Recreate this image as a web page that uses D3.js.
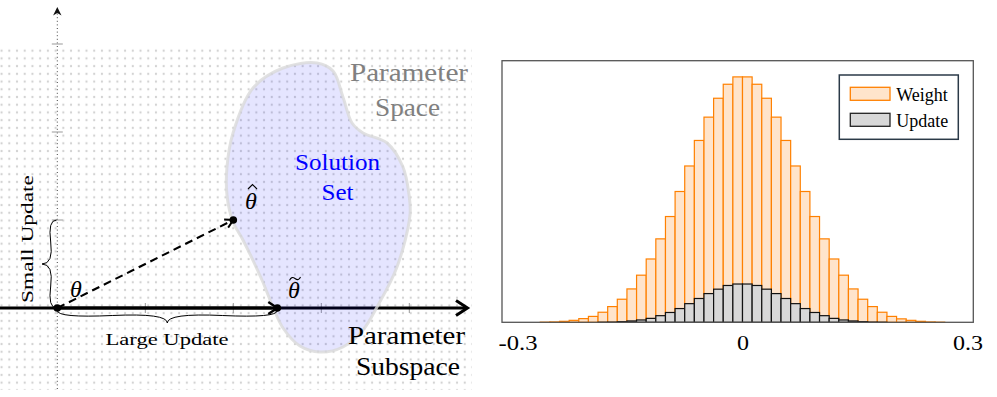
<!DOCTYPE html>
<html>
<head>
<meta charset="utf-8">
<script src="https://cdn.jsdelivr.net/npm/d3@7"></script>
<style>
body{margin:0;background:#fff;}
svg{display:block;}
</style>
</head>
<body>
<svg id="chart" width="997" height="397"></svg>
<script>
// ---- histogram (right panel) ----
var binStart = -0.321, binWidth = 0.01284;   // 50 bins
var weightCounts = [0,0,0,0,0.5,1.5,4,8,15,24,41,64,94,136,192,258,340,431,533,637,741,836,913,970,1000,
	1000,970,913,836,741,637,533,431,340,258,192,136,94,64,41,24,14,8,4,1.5,0.5,0,0,0,0];
var updateCounts = [0,0,0,0,0,0,0,0,0,0,0.3,0.8,2.5,5.5,9.5,16,27,40,56,76,97,117,135,150,156,
	156,150,135,117,97,76,56,40,27,16,9.5,5.5,2.5,0.8,0.3,0,0,0,0,0,0,0,0,0,0];
var xTicks = [-0.3, 0, 0.3];
var xTickLabels = ["-0.3", "0", "0.3"];
var legendItems = ["Weight", "Update"];

// ---- diagram (left panel), in axis units ----
var thetaPt = [0, 0], thetaHatPt = [2, 1], thetaTildePt = [2.5, 0];
var uTicks = [1, 2, 3, 4], vTicks = [1, 2, 3];
var solutionSet = [[2.951,2.784],[3.133,2.693],[3.246,2.398],[3.349,2.102],[3.474,1.989],[3.747,1.875],
	[3.928,1.602],[3.997,1.284],[4.008,1.057],[3.860,0.466],[3.633,0.011],[3.474,-0.250],[3.246,-0.443],
	[2.985,-0.500],[2.758,-0.432],[2.565,-0.227],[2.451,0.011],[2.326,0.318],[2.110,0.773],[1.997,0.977],
	[1.928,1.284],[1.928,1.602],[1.997,1.989],[2.224,2.500],[2.565,2.727]];

var svg = d3.select("#chart");
var SERIF = "Liberation Serif, Times New Roman, serif";

/* ================= left: parameter space diagram ================= */
var sx = d3.scaleLinear().domain([0, 1]).range([57.3, 145.3]);
var sy = d3.scaleLinear().domain([0, 1]).range([308, 220]);
var L = svg.append("g").attr("class", "diagram");

var defs = svg.append("defs");
defs.append("pattern").attr("id", "dots").attr("patternUnits", "userSpaceOnUse")
	.attr("x", -2.3).attr("y", 46.8).attr("width", 7.72).attr("height", 7.72)
	.append("circle").attr("cx", 3.86).attr("cy", 3.86).attr("r", 1.15).attr("fill", "#d2d2d2");
L.append("rect").attr("x", 0).attr("y", 47).attr("width", 472).attr("height", 343)
	.attr("fill", "url(#dots)");

// vertical dotted axis
L.append("line").attr("x1", sx(0)).attr("x2", sx(0)).attr("y1", 389).attr("y2", 12)
	.attr("stroke", "#444").attr("stroke-width", 1).attr("stroke-dasharray", "1,2.6");
L.append("path").attr("d", "M0,-4 L4.2,4.5 L0,2 L-4.2,4.5 Z")
	.attr("transform", "translate(" + sx(0) + ",11)").attr("fill", "#111");

// ticks
L.selectAll(".utick").data(uTicks).enter().append("line").attr("class", "utick")
	.attr("x1", function(d){return sx(d);}).attr("x2", function(d){return sx(d);})
	.attr("y1", sy(0) - 5).attr("y2", sy(0) + 5).attr("stroke", "#999").attr("stroke-width", 1);
L.selectAll(".vtick").data(vTicks).enter().append("line").attr("class", "vtick")
	.attr("y1", function(d){return sy(d);}).attr("y2", function(d){return sy(d);})
	.attr("x1", sx(0) - 5.5).attr("x2", sx(0) + 5.5).attr("stroke", "#999").attr("stroke-width", 1);

// horizontal (subspace) axis
L.append("line").attr("x1", 0).attr("x2", 465).attr("y1", sy(0)).attr("y2", sy(0))
	.attr("stroke", "#000").attr("stroke-width", 3.2);
L.append("path").attr("d", "M456,300.5 L467.5,308 L456,315.5")
	.attr("fill", "none").attr("stroke", "#000").attr("stroke-width", 3).attr("stroke-linejoin", "miter");

// solution set blob
L.append("path").datum(solutionSet)
	.attr("d", d3.line().x(function(d){return sx(d[0]);}).y(function(d){return sy(d[1]);})
		.curve(d3.curveCatmullRomClosed.alpha(0.5)))
	.attr("fill", "rgb(0,0,255)").attr("fill-opacity", 0.1)
	.attr("stroke", "#d9d9d9").attr("stroke-opacity", 0.8).attr("stroke-width", 3);

// large update arrow theta -> theta tilde
L.append("line").attr("x1", sx(thetaPt[0])).attr("x2", sx(thetaTildePt[0]))
	.attr("y1", sy(thetaPt[1])).attr("y2", sy(thetaTildePt[1]))
	.attr("stroke", "#000").attr("stroke-width", 3.2);
L.append("path").attr("d", "M-9,-6 L0,0 L-9,6")
	.attr("transform", "translate(" + sx(thetaTildePt[0]) + "," + sy(thetaTildePt[1]) + ")")
	.attr("fill", "none").attr("stroke", "#000").attr("stroke-width", 2.4);

// dashed arrow theta -> theta hat
var hx = sx(thetaHatPt[0]), hy = sy(thetaHatPt[1]);
var ang = Math.atan2(hy - sy(thetaPt[1]), hx - sx(thetaPt[0])) * 180 / Math.PI;
L.append("line").attr("x1", sx(thetaPt[0])).attr("y1", sy(thetaPt[1])).attr("x2", hx).attr("y2", hy)
	.attr("stroke", "#000").attr("stroke-width", 2.1).attr("stroke-dasharray", "8,5");
L.append("path").attr("d", "M-8,-4.5 L0,0 L-8,4.5")
	.attr("transform", "translate(" + hx + "," + hy + ") rotate(" + ang + ")")
	.attr("fill", "none").attr("stroke", "#000").attr("stroke-width", 2);

// points
L.selectAll(".pt").data([thetaPt, thetaHatPt, thetaTildePt]).enter().append("circle")
	.attr("class", "pt").attr("cx", function(d){return sx(d[0]);}).attr("cy", function(d){return sy(d[1]);})
	.attr("r", 3.8).attr("fill", "#000");

// braces
function bracePath(x1, y1, x2, y2, w, q){
	var dx = x1 - x2, dy = y1 - y2, len = Math.sqrt(dx*dx + dy*dy);
	dx /= len; dy /= len;
	var qx1 = x1 + q*w*dy, qy1 = y1 - q*w*dx;
	var qx2 = (x1 - .25*len*dx) + (1-q)*w*dy, qy2 = (y1 - .25*len*dy) - (1-q)*w*dx;
	var tx = (x1 - .5*len*dx) + w*dy, ty = (y1 - .5*len*dy) - w*dx;
	var qx3 = x2 + q*w*dy, qy3 = y2 - q*w*dx;
	var qx4 = (x1 - .75*len*dx) + (1-q)*w*dy, qy4 = (y1 - .75*len*dy) - (1-q)*w*dx;
	return "M" + x1 + "," + y1 + " Q" + qx1 + "," + qy1 + " " + qx2 + "," + qy2 + " T" + tx + "," + ty +
		" M" + x2 + "," + y2 + " Q" + qx3 + "," + qy3 + " " + qx4 + "," + qy4 + " T" + tx + "," + ty;
}
L.append("path").attr("d", bracePath(sx(0), 310.5, sx(thetaTildePt[0]), 310.5, 12.5, 0.6))
	.attr("fill", "none").attr("stroke", "#000").attr("stroke-width", 1);
L.append("path").attr("d", bracePath(56.5, sy(vTicks[0]), 56.5, sy(0), 14.5, 0.6))
	.attr("fill", "none").attr("stroke", "#000").attr("stroke-width", 1);

// texts
function txt(g, s, x, y, size, fill, len, anchor){
	var t = g.append("text").attr("x", x).attr("y", y).text(s)
		.attr("font-family", SERIF).attr("font-size", size).attr("fill", fill)
		.attr("text-anchor", anchor || "middle");
	if (len) t.attr("textLength", len).attr("lengthAdjust", "spacingAndGlyphs");
	return t;
}
txt(L, "Large Update", 167, 345, 17.5, "#000", 123);
txt(L, "Small Update", 0, 0, 17.5, "#000", 128).attr("transform", "translate(32.5,239) rotate(-90)");
txt(L, "Solution", 337.5, 170, 23, "#0000ff", 85);
txt(L, "Set", 337.5, 200, 23, "#0000ff", 32);
txt(L, "Parameter", 409, 80.5, 26, "#808080", 118);
txt(L, "Space", 407.5, 116, 26, "#808080", 65);
txt(L, "Parameter", 406.5, 343.5, 26, "#000", 117);
txt(L, "Subspace", 408, 374.5, 26, "#000", 104);
txt(L, "\u03b8", 76, 297, 24, "#000").attr("font-style", "italic");
txt(L, "\u03b8", 251, 209, 24, "#000").attr("font-style", "italic");
txt(L, "\u03b8", 294, 297.5, 24, "#000").attr("font-style", "italic");
L.append("path").attr("d", "M248,189 L252.5,184.5 L257,189").attr("fill", "none")
	.attr("stroke", "#000").attr("stroke-width", 1.1);
L.append("path").attr("d", "M289.5,280.5 C291,277 293,277 295,278.5 C297,280 299,280.5 300.5,277")
	.attr("fill", "none").attr("stroke", "#000").attr("stroke-width", 1.1);

/* ================= right: histogram ================= */
var frame = {x0: 502, x1: 973.3, y0: 60.7, y1: 322.3};
var x = d3.scaleLinear().domain([-0.3, 0.3]).range([517.5, 967.5]);
var y = d3.scaleLinear().domain([0, 1066]).range([frame.y1, frame.y0]);
var R = svg.append("g").attr("class", "hist");

function bins(counts){
	return counts.map(function(c, i){
		return {x0: binStart + i*binWidth, x1: binStart + (i+1)*binWidth, v: c};
	}).filter(function(d){return d.v > 0;});
}
function drawBars(cls, counts, fill, stroke){
	R.selectAll("." + cls).data(bins(counts)).enter().append("rect").attr("class", cls)
		.attr("x", function(d){return x(d.x0);})
		.attr("width", function(d){return x(d.x1) - x(d.x0);})
		.attr("y", function(d){return y(d.v);})
		.attr("height", function(d){return y(0) - y(d.v);})
		.attr("fill", fill).attr("stroke", stroke).attr("stroke-width", 1.2);
}
drawBars("wbar", weightCounts, "#ffe4cb", "#ff8000");
drawBars("ubar", updateCounts, "#d8d8d8", "#111");

R.append("rect").attr("x", frame.x0).attr("y", frame.y0)
	.attr("width", frame.x1 - frame.x0).attr("height", frame.y1 - frame.y0)
	.attr("fill", "none").attr("stroke", "#555").attr("stroke-width", 1.3);

var xAxis = R.append("g").attr("transform", "translate(0," + frame.y1 + ")")
	.call(d3.axisBottom(x).tickValues(xTicks).tickSize(0).tickPadding(0)
		.tickFormat(function(d, i){return xTickLabels[i];}));
xAxis.select(".domain").remove();
var tickLens = [39, 12, 30];
xAxis.selectAll("text").attr("y", 27.7).attr("dy", null)
	.attr("font-family", SERIF).attr("font-size", 20).attr("fill", "#000")
	.attr("textLength", function(d, i){return tickLens[i];}).attr("lengthAdjust", "spacingAndGlyphs");

// legend
var lg = R.append("g").attr("transform", "translate(839.3,75)");
lg.append("rect").attr("width", 119).attr("height", 64.3).attr("fill", "#fff")
	.attr("stroke", "#2b3a48").attr("stroke-width", 1.5);
var legendStyle = [["#ffe4cb", "#ff8000"], ["#d8d8d8", "#222"]];
legendItems.forEach(function(name, i){
	var row = lg.append("g").attr("transform", "translate(0," + (12.3 + i*26) + ")");
	row.append("rect").attr("x", 11).attr("width", 39.7).attr("height", 13)
		.attr("fill", legendStyle[i][0]).attr("stroke", legendStyle[i][1]).attr("stroke-width", 1.3);
	row.append("text").attr("x", 57).attr("y", 13.7).text(name)
		.attr("font-family", SERIF).attr("font-size", 18).attr("fill", "#000");
});
</script>
</body>
</html>
